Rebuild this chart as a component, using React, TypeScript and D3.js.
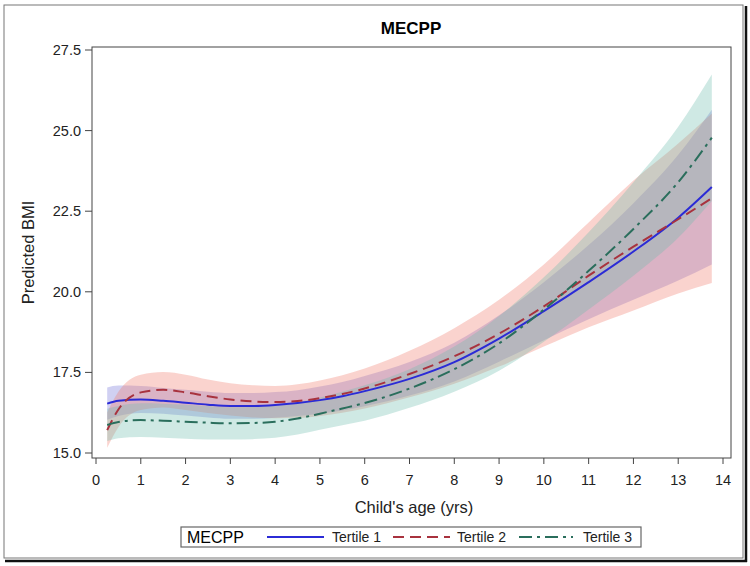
import React from "react";
import * as d3 from "d3";

const ages = [0.25, 0.5, 1, 1.5, 2, 2.5, 3, 3.5, 4, 4.5, 5, 5.5, 6, 7, 8, 9, 10, 11, 12, 13, 13.75];

const tertile1 = [16.53, 16.62, 16.66, 16.62, 16.56, 16.5, 16.46, 16.46, 16.49, 16.55, 16.64, 16.76, 16.92, 17.3, 17.82, 18.55, 19.4, 20.3, 21.25, 22.3, 23.25];
const tertile1Lo = [16.03, 16.15, 16.24, 16.22, 16.16, 16.1, 16.06, 16.06, 16.09, 16.15, 16.22, 16.32, 16.45, 16.78, 17.22, 17.83, 18.5, 19.15, 19.75, 20.35, 20.85];
const tertile1Hi = [17.03, 17.09, 17.08, 17.02, 16.96, 16.9, 16.86, 16.86, 16.89, 16.95, 17.06, 17.2, 17.39, 17.82, 18.42, 19.27, 20.3, 21.45, 22.75, 24.25, 25.65];

const tertile2 = [15.71, 16.35, 16.88, 16.96, 16.88, 16.76, 16.66, 16.6, 16.58, 16.61, 16.7, 16.83, 17.0, 17.45, 18.0, 18.7, 19.55, 20.5, 21.4, 22.25, 22.9];
const tertile2Lo = [15.16, 15.8, 16.33, 16.41, 16.33, 16.24, 16.16, 16.1, 16.08, 16.09, 16.15, 16.25, 16.38, 16.73, 17.15, 17.68, 18.3, 18.9, 19.42, 19.95, 20.27];
const tertile2Hi = [16.26, 16.9, 17.43, 17.51, 17.43, 17.28, 17.16, 17.1, 17.08, 17.13, 17.25, 17.41, 17.62, 18.17, 18.87, 19.75, 20.85, 22.15, 23.45, 24.6, 25.53];

const tertile3 = [15.87, 15.96, 16.02, 16.0, 15.97, 15.94, 15.92, 15.93, 15.97, 16.07, 16.22, 16.38, 16.55, 17.0, 17.6, 18.4, 19.45, 20.65, 21.95, 23.4, 24.78];
const tertile3Lo = [15.37, 15.46, 15.5, 15.47, 15.44, 15.42, 15.42, 15.43, 15.47, 15.57, 15.72, 15.86, 16.0, 16.4, 16.9, 17.55, 18.45, 19.45, 20.5, 21.68, 22.82];
const tertile3Hi = [16.37, 16.46, 16.54, 16.53, 16.5, 16.46, 16.42, 16.43, 16.47, 16.57, 16.72, 16.9, 17.1, 17.6, 18.3, 19.25, 20.45, 21.85, 23.4, 25.12, 26.74];

const xTicks = [0, 1, 2, 3, 4, 5, 6, 7, 8, 9, 10, 11, 12, 13, 14];
const yTicks = [15.0, 17.5, 20.0, 22.5, 25.0, 27.5];
const seriesNames = ["Tertile 1", "Tertile 2", "Tertile 3"];

const FONT = "'Liberation Sans', Arial, sans-serif";

export default function App() {
  const box = { left: 92, top: 47, right: 731, bottom: 458 };
  const x = d3.scaleLinear().domain([0, 14]).range([96, 723]);
  const y = d3.scaleLinear().domain([15, 27.5]).range([453, 50]);

  const series = [
    { name: seriesNames[0], v: tertile1, lo: tertile1Lo, hi: tertile1Hi, line: "#2b2bd6", band: "#6f6fd8", dash: "none" },
    { name: seriesNames[1], v: tertile2, lo: tertile2Lo, hi: tertile2Hi, line: "#a8323e", band: "#f07a6a", dash: "11,6" },
    { name: seriesNames[2], v: tertile3, lo: tertile3Lo, hi: tertile3Hi, line: "#2a6e5c", band: "#6cbcae", dash: "13,5,3,5" },
  ];

  const curve = d3.curveMonotoneX;
  const lineGen = d3.line<number>().x((_, i) => x(ages[i])).y((d) => y(d)).curve(curve);
  const areaGen = (lo: number[], hi: number[]) =>
    d3
      .area<number>()
      .x((_, i) => x(ages[i]))
      .y0((_, i) => y(lo[i]))
      .y1((_, i) => y(hi[i]))
      .curve(curve)(ages.map((a) => a)) as string;

  const legendLines = [
    { x1: 267, x2: 324, tx: 332 },
    { x1: 393, x2: 450, tx: 457 },
    { x1: 519, x2: 573, tx: 583 },
  ];

  return (
    <svg width={750} height={566} style={{ position: "absolute", left: 0, top: 0, background: "#fff" }} fontFamily={FONT}>
      <rect x={0} y={0} width={750} height={566} fill="#fff" />
      {/* outer frame */}
      <rect x={4} y={5} width={739} height={553} fill="none" stroke="#777" strokeWidth={1} />
      <line x1={746} y1={6} x2={746} y2={562} stroke="#111" strokeWidth={2.5} />
      <line x1={5} y1={561} x2={747} y2={561} stroke="#111" strokeWidth={2.5} />

      {/* title */}
      <text x={411} y={34} textAnchor="middle" fontSize={17} fontWeight="bold" fill="#000">MECPP</text>

      {/* bands */}
      {series.map((s) => (
        <path key={s.name + "b"} d={areaGen(s.lo, s.hi)} fill={s.band} fillOpacity={0.33} stroke="none" />
      ))}
      {/* lines */}
      {series.map((s) => (
        <path key={s.name + "l"} d={lineGen(s.v) as string} fill="none" stroke={s.line} strokeWidth={2} strokeDasharray={s.dash} />
      ))}

      {/* plot box */}
      <rect x={box.left} y={box.top} width={box.right - box.left} height={box.bottom - box.top} fill="none" stroke="#444" strokeWidth={1} />

      {/* y axis */}
      {yTicks.map((t) => (
        <g key={"y" + t}>
          <line x1={box.left - 7} x2={box.left} y1={y(t)} y2={y(t)} stroke="#444" strokeWidth={1} />
          <text x={box.left - 11} y={y(t)} dy="0.35em" textAnchor="end" fontSize={14.5} fill="#222">
            {t.toFixed(1)}
          </text>
        </g>
      ))}
      <text transform={`translate(28,${(box.top + box.bottom) / 2}) rotate(-90)`} dy="0.35em" textAnchor="middle" fontSize={16.5} fill="#222">
        Predicted BMI
      </text>

      {/* x axis */}
      {xTicks.map((t) => (
        <g key={"x" + t}>
          <line x1={x(t)} x2={x(t)} y1={box.bottom} y2={box.bottom + 6} stroke="#444" strokeWidth={1} />
          <text x={x(t)} y={484.5} textAnchor="middle" fontSize={14.5} fill="#222">
            {t}
          </text>
        </g>
      ))}
      <text x={414} y={513} textAnchor="middle" fontSize={16.5} fill="#222">Child's age (yrs)</text>

      {/* legend */}
      <rect x={181} y={527} width={460} height={20} fill="#fff" stroke="#666" strokeWidth={1.2} />
      <text x={187} y={543} fontSize={16} fill="#000">MECPP</text>
      {series.map((s, i) => (
        <g key={s.name + "leg"}>
          <line x1={legendLines[i].x1} x2={legendLines[i].x2} y1={537} y2={537} stroke={s.line} strokeWidth={2} strokeDasharray={s.dash} />
          <text x={legendLines[i].tx} y={542} fontSize={14} fill="#222">{s.name}</text>
        </g>
      ))}
    </svg>
  );
}
